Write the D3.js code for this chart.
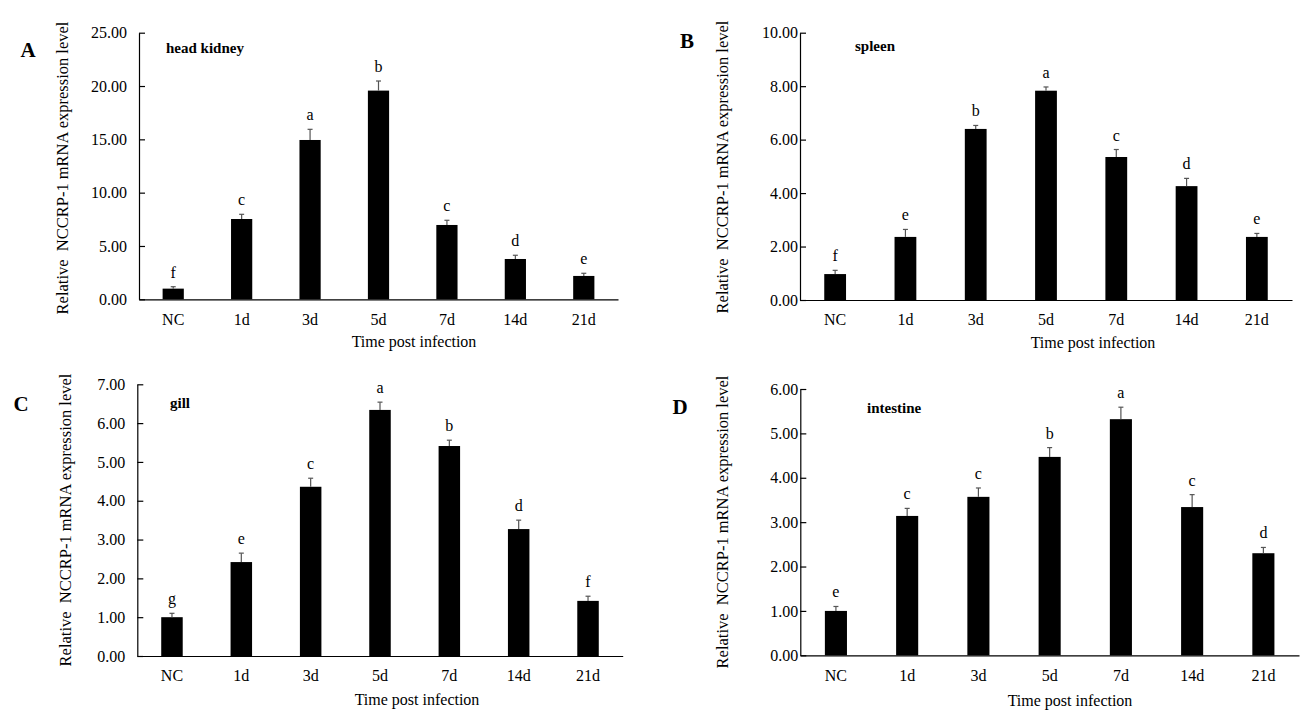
<!DOCTYPE html>
<html>
<head>
<meta charset="utf-8">
<script src="https://cdn.jsdelivr.net/npm/d3@7/dist/d3.min.js"></script>
<style>
  html, body { margin: 0; padding: 0; background: #fff; }
  svg { display: block; font-family: "Liberation Serif", "Times New Roman", serif; }
</style>
</head>
<body>
<svg id="chart" width="1307" height="726"></svg>
<script>
// ---------- DATA ----------
const categories = ["NC", "1d", "3d", "5d", "7d", "14d", "21d"];

const headKidneyMean    = [1.00, 7.53, 14.94, 19.57, 6.97, 3.78, 2.19];
const headKidneyErr     = [0.18, 0.44, 1.00, 0.90, 0.44, 0.35, 0.25];
const headKidneyLetters = ["f", "c", "a", "b", "c", "d", "e"];
const headKidneyTicks   = [0, 5, 10, 15, 20, 25];

const spleenMean    = [0.97, 2.36, 6.40, 7.83, 5.35, 4.26, 2.36];
const spleenErr     = [0.14, 0.28, 0.13, 0.14, 0.28, 0.29, 0.13];
const spleenLetters = ["f", "e", "b", "a", "c", "d", "e"];
const spleenTicks   = [0, 2, 4, 6, 8, 10];

const gillMean    = [1.00, 2.42, 4.36, 6.34, 5.41, 3.27, 1.42];
const gillErr     = [0.10, 0.23, 0.22, 0.20, 0.15, 0.23, 0.12];
const gillLetters = ["g", "e", "c", "a", "b", "d", "f"];
const gillTicks   = [0, 1, 2, 3, 4, 5, 6, 7];

const intestineMean    = [1.00, 3.14, 3.57, 4.47, 5.32, 3.34, 2.30];
const intestineErr     = [0.10, 0.17, 0.20, 0.21, 0.27, 0.28, 0.13];
const intestineLetters = ["e", "c", "c", "b", "a", "c", "d"];
const intestineTicks   = [0, 1, 2, 3, 4, 5, 6];

const panelLetters = ["A", "B", "C", "D"];
const tissueNames  = ["head kidney", "spleen", "gill", "intestine"];
const yTitle = "Relative\u00a0\u00a0NCCRP-1 mRNA expression level";
const xTitle = "Time post infection";

// ---------- LAYOUT ----------
const panels = [
  { letter: panelLetters[0], name: tissueNames[0], mean: headKidneyMean, err: headKidneyErr, sig: headKidneyLetters, ticks: headKidneyTicks,
    x0: 139, x1: 618, yTop: 32.7, yBot: 299.3, tickPad: 12,
    letterPos: [28, 57], namePos: [166, 53], yTitlePos: [62, 168], xTitlePos: [414, 347] },
  { letter: panelLetters[1], name: tissueNames[1], mean: spleenMean, err: spleenErr, sig: spleenLetters, ticks: spleenTicks,
    x0: 800, x1: 1292, yTop: 32.7, yBot: 300, tickPad: 2,
    letterPos: [687, 48], namePos: [855, 51], yTitlePos: [722, 167], xTitlePos: [1093, 348] },
  { letter: panelLetters[2], name: tissueNames[2], mean: gillMean, err: gillErr, sig: gillLetters, ticks: gillTicks,
    x0: 137.3, x1: 622.7, yTop: 384.3, yBot: 656, tickPad: 12,
    letterPos: [21, 411], namePos: [170, 408], yTitlePos: [65, 520], xTitlePos: [417, 705] },
  { letter: panelLetters[3], name: tissueNames[3], mean: intestineMean, err: intestineErr, sig: intestineLetters, ticks: intestineTicks,
    x0: 800.3, x1: 1299, yTop: 389, yBot: 655.3, tickPad: 2,
    letterPos: [680, 414], namePos: [867, 413], yTitlePos: [722, 522], xTitlePos: [1070, 706] }
];

const svg = d3.select("#chart");
const fmt = d3.format(".2f");

panels.forEach(p => {
  const g = svg.append("g");
  const x = d3.scaleBand().domain(categories).range([p.x0, p.x1]).padding(0);
  const y = d3.scaleLinear().domain([0, d3.max(p.ticks)]).range([p.yBot, p.yTop]);
  const barW = x.bandwidth() * 0.31;

  const rows = categories.map((c, i) => ({ c, v: p.mean[i], e: p.err[i], s: p.sig[i] }));

  // bars
  g.selectAll("rect.bar").data(rows).enter().append("rect")
    .attr("class", "bar")
    .attr("x", d => x(d.c) + x.bandwidth() / 2 - barW / 2)
    .attr("width", barW)
    .attr("y", d => y(d.v))
    .attr("height", d => y(0) - y(d.v))
    .attr("fill", "#000");

  // error bars (upper)
  const eg = g.selectAll("g.err").data(rows).enter().append("g").attr("class", "err")
    .attr("stroke", "#555").attr("stroke-width", 1.2);
  eg.append("line")
    .attr("x1", d => x(d.c) + x.bandwidth() / 2).attr("x2", d => x(d.c) + x.bandwidth() / 2)
    .attr("y1", d => y(d.v)).attr("y2", d => y(d.v + d.e));
  eg.append("line")
    .attr("x1", d => x(d.c) + x.bandwidth() / 2 - 2.5).attr("x2", d => x(d.c) + x.bandwidth() / 2 + 2.5)
    .attr("y1", d => y(d.v + d.e)).attr("y2", d => y(d.v + d.e));

  // significance letters
  g.selectAll("text.sig").data(rows).enter().append("text")
    .attr("class", "sig")
    .attr("x", d => x(d.c) + x.bandwidth() / 2)
    .attr("y", d => y(d.v + d.e) - 9)
    .attr("text-anchor", "middle")
    .attr("font-size", 16)
    .attr("fill", "#000")
    .text(d => d.s);

  // y axis
  const ya = g.append("g").attr("transform", `translate(${p.x0},0)`)
    .call(d3.axisLeft(y).tickValues(p.ticks).tickFormat(fmt).tickSizeInner(-6).tickSizeOuter(0).tickPadding(p.tickPad));
  ya.selectAll("path, line").attr("stroke", "#000").attr("stroke-width", 1.2);
  ya.selectAll("text").attr("font-size", 16).attr("fill", "#000").style("font-family", "'Liberation Serif', serif");

  // x axis
  const xa = g.append("g").attr("transform", `translate(0,${p.yBot})`)
    .call(d3.axisBottom(x).tickSize(0).tickPadding(14));
  xa.select("path").attr("stroke", "#000").attr("stroke-width", 1.2);
  xa.selectAll("text").attr("font-size", 16).attr("fill", "#000").style("font-family", "'Liberation Serif', serif");

  // titles
  g.append("text")
    .attr("transform", `translate(${p.yTitlePos[0]},${p.yTitlePos[1]}) rotate(-90)`)
    .attr("text-anchor", "middle").attr("dy", "0.35em")
    .attr("font-size", 16.5).attr("fill", "#000")
    .text(yTitle);
  g.append("text")
    .attr("x", p.xTitlePos[0]).attr("y", p.xTitlePos[1])
    .attr("text-anchor", "middle")
    .attr("font-size", 16).attr("fill", "#000")
    .text(xTitle);
  g.append("text")
    .attr("x", p.letterPos[0]).attr("y", p.letterPos[1])
    .attr("text-anchor", "middle")
    .attr("font-size", 21).attr("font-weight", "bold").attr("fill", "#000")
    .text(p.letter);
  g.append("text")
    .attr("x", p.namePos[0]).attr("y", p.namePos[1])
    .attr("font-size", 15).attr("font-weight", "bold").attr("fill", "#000")
    .text(p.name);
});
</script>
</body>
</html>
